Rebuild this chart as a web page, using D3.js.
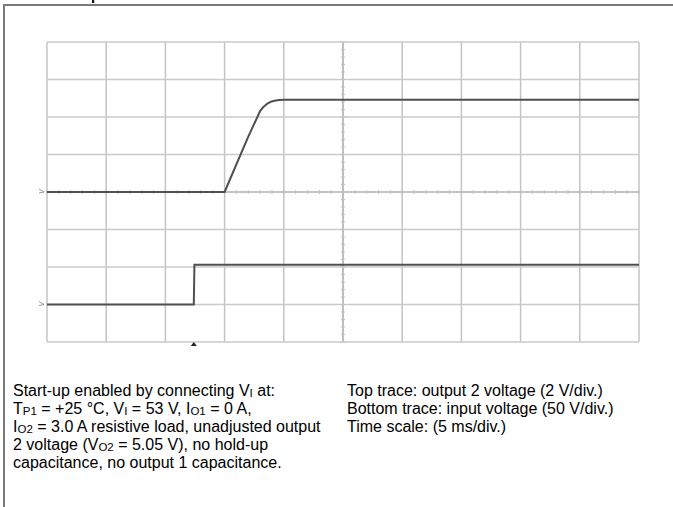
<!DOCTYPE html>
<html><head><meta charset="utf-8">
<script src="https://cdn.jsdelivr.net/npm/d3@7"></script>
<style>html,body{margin:0;padding:0;background:#fff;}svg{display:block;}</style>
</head><body>
<svg id="c" width="673" height="507"></svg>
<script>
// ---- data ----
const timeTicks = [0,5,10,15,20,25,30,35,40,45,50];          // ms, 5 ms/div
const divTicks = [-4,-3,-2,-1,0,1,2,3,4];                    // vertical divisions
// Top trace: output 2 voltage (V), 2 V/div, ground at centre line
const outTime = [0, 15, 16, 17, 18, 18.3, 18.6, 18.9, 19.2, 19.6, 20, 50];
const outVolt = [0, 0, 1.48, 2.95, 4.32, 4.55, 4.71, 4.81, 4.87, 4.91, 4.92, 4.92];
// Bottom trace: input voltage (V), 50 V/div, ground 3 div below centre
const inTime = [0, 12.4, 12.45, 50];
const inVolt = [0, 0, 53, 53];
const triggerTime = [12.4];
const noteLeft = [
  [["Start-up enabled by connecting V",0],["I",1],[" at:",0]],
  [["T",0],["P1",1],[" = +25 °C, V",0],["I",1],[" = 53 V, I",0],["O1",1],[" = 0 A,",0]],
  [["I",0],["O2",1],[" = 3.0 A resistive load, unadjusted output",0]],
  [["2 voltage (V",0],["O2",1],[" = 5.05 V), no hold-up",0]],
  [["capacitance, no output 1 capacitance.",0]]
];
const noteRight = [
  "Top trace: output 2 voltage (2 V/div.)",
  "Bottom trace: input voltage (50 V/div.)",
  "Time scale: (5 ms/div.)"
];

// ---- layout ----
const svg = d3.select("#c");
const L = 47, R = 639, T = 42, B = 342;
const x = d3.scaleLinear().domain([0,50]).range([L,R]);
const yDiv = d3.scaleLinear().domain([-4,4]).range([B,T]);
const yOut = v => yDiv(v/2);          // 2 V/div
const yIn = v => yDiv(-3 + v/50);     // 50 V/div, offset -3 div

// page frame
svg.append("line").attr("x1",4).attr("x2",673).attr("y1",5).attr("y2",5).attr("stroke","#7a7a7a").attr("stroke-width",2);
svg.append("line").attr("x1",4).attr("x2",4).attr("y1",4).attr("y2",507).attr("stroke","#7a7a7a").attr("stroke-width",2);
svg.append("rect").attr("x",92).attr("y",0).attr("width",2.2).attr("height",3).attr("fill","#111");

// grid
const g = svg.append("g");
g.selectAll("line.v").data(timeTicks).join("line").attr("class","v")
  .attr("x1",d=>x(d)).attr("x2",d=>x(d)).attr("y1",T).attr("y2",B)
  .attr("stroke",d=>d===25?"#a8a8a8":"#c4c4c4").attr("stroke-width",1.5);
g.selectAll("line.h").data(divTicks).join("line").attr("class","h")
  .attr("x1",L).attr("x2",R).attr("y1",d=>yDiv(d)).attr("y2",d=>yDiv(d))
  .attr("stroke",d=>d===0?"#b0b0b0":"#cacaca").attr("stroke-width",1.5);
// minor ticks on centre axes
const minorX = d3.range(0,50.01,1);
g.selectAll("line.mx").data(minorX).join("line").attr("class","mx")
  .attr("x1",d=>x(d)).attr("x2",d=>x(d)).attr("y1",yDiv(0)-2).attr("y2",yDiv(0)+2)
  .attr("stroke","#c0c0c0").attr("stroke-width",1);
const minorY = d3.range(-4,4.01,0.2);
g.selectAll("line.my").data(minorY).join("line").attr("class","my")
  .attr("x1",x(25)-2).attr("x2",x(25)+2).attr("y1",d=>yDiv(d)).attr("y2",d=>yDiv(d))
  .attr("stroke","#c0c0c0").attr("stroke-width",1);

// channel ground markers
[0,-3].forEach(d=>{
  svg.append("path").attr("d",`M${L-8},${yDiv(d)-3} L${L-3},${yDiv(d)} L${L-8},${yDiv(d)+1}`)
    .attr("fill","none").attr("stroke","#999").attr("stroke-width",1);
});

// traces
const outData = outTime.map((t,i)=>[t,outVolt[i]]);
const inData = inTime.map((t,i)=>[t,inVolt[i]]);
const lineOut = d3.line().x(d=>x(d[0])).y(d=>yOut(d[1]));
const lineIn = d3.line().x(d=>x(d[0])).y(d=>yIn(d[1]));
svg.append("path").attr("d",lineOut(outData)).attr("fill","none").attr("stroke","#505050").attr("stroke-width",2).attr("stroke-linejoin","round");
svg.append("path").attr("d",lineIn(inData)).attr("fill","none").attr("stroke","#505050").attr("stroke-width",2);

// trigger marker
svg.selectAll("path.trig").data(triggerTime).join("path").attr("class","trig")
  .attr("d",d=>`M${x(d)-3},${B+4} L${x(d)},${B} L${x(d)+3},${B+4} Z`).attr("fill","#222");

// notes
const font = "'Liberation Sans', Arial, sans-serif";
const tl = svg.append("text").attr("font-family",font).attr("font-size",16).attr("fill","#000");
noteLeft.forEach((parts,i)=>{
  parts.forEach(([s,sub],j)=>{
    const ts = tl.append("tspan").text(s);
    if(j===0) ts.attr("x",13).attr("y",396+i*18);
    if(sub){ ts.attr("font-size",11.5).attr("dy",1); }
    else if(j>0 && parts[j-1][1]){ ts.attr("dy",-1); }
  });
});
svg.append("g").selectAll("text").data(noteRight).join("text")
  .attr("x",347).attr("y",(d,i)=>396+i*18).attr("font-family",font).attr("font-size",16).text(d=>d);
</script>
</body></html>
